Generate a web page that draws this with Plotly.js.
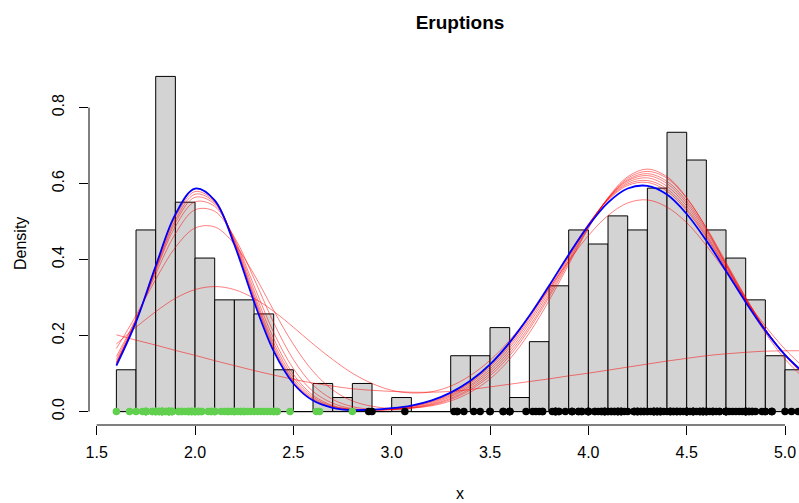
<!DOCTYPE html>
<html>
<head>
<meta charset="utf-8">
<script src="https://cdn.plot.ly/plotly-3.0.1.min.js"></script>
<style>html,body{margin:0;padding:0;background:#fff;}#chart{width:799px;height:503px;}</style>
</head>
<body>
<div id="chart"></div>
<script>
// Histogram of eruption durations (density scale), bins of width 0.1
const binLeft = [1.6,1.7,1.8,1.9,2.0,2.1,2.2,2.3,2.4,2.5,2.6,2.7,2.8,2.9,3.0,3.1,3.2,3.3,3.4,3.5,
                 3.6,3.7,3.8,3.9,4.0,4.1,4.2,4.3,4.4,4.5,4.6,4.7,4.8,4.9,5.0];
const binDensity = [0.110,0.478,0.882,0.551,0.404,0.294,0.294,0.257,0.110,0,0.074,0.037,0.074,0,0.037,0,0,0.147,0.147,0.221,
                    0.037,0.184,0.331,0.478,0.441,0.515,0.478,0.588,0.735,0.662,0.478,0.404,0.294,0.147,0.110];
const binWidth = 0.1;

// x positions at which the mixture densities were read
const curveX = [1.6,1.7,1.8,1.9,2.0,2.1,2.2,2.3,2.4,2.5,2.6,2.7,2.8,2.9,3.0,3.1,3.2,3.3,3.4,3.5,
                3.6,3.7,3.8,3.9,4.0,4.1,4.2,4.3,4.4,4.5,4.6,4.7,4.8,4.9,5.0,5.1];

// EM iterations (red) and final fit (blue)
const iter1 = [.202,.188,.175,.161,.148,.134,.121,.108,.096,.085,.075,.067,.060,.056,.053,.051,.051,.053,.058,.065,
               .072,.079,.086,.094,.101,.109,.117,.125,.133,.140,.147,.152,.156,.159,.160,.160];
const iter2 = [.178,.222,.263,.298,.321,.329,.321,.298,.264,.222,.178,.137,.101,.074,.056,.049,.052,.067,.095,.135,
               .188,.252,.323,.396,.463,.516,.549,.557,.538,.497,.437,.367,.294,.225,.164,.114];
const iter3 = [.166,.253,.348,.432,.483,.486,.441,.361,.266,.177,.106,.057,.028,.014,.008,.009,.015,.028,.051,.086,
               .138,.207,.292,.387,.482,.563,.618,.638,.618,.563,.482,.387,.292,.207,.138,.086];
const iter4 = [.145,.245,.362,.468,.531,.527,.459,.350,.234,.137,.070,.032,.013,.006,.005,.009,.017,.032,.057,.094,
               .147,.217,.301,.393,.484,.561,.614,.632,.614,.561,.484,.393,.301,.217,.147,.094];
const iter5 = [.137,.243,.370,.487,.552,.540,.455,.331,.208,.113,.053,.022,.008,.004,.005,.010,.019,.035,.061,.100,
               .154,.224,.307,.398,.486,.561,.610,.626,.606,.554,.478,.389,.299,.216,.148,.095];
const iter6 = [.131,.239,.373,.497,.564,.546,.452,.319,.192,.098,.043,.016,.006,.004,.006,.011,.021,.039,.066,.106,
               .161,.232,.314,.404,.489,.561,.607,.621,.600,.548,.473,.386,.297,.216,.149,.097];
const iter7 = [.128,.239,.377,.504,.572,.550,.448,.309,.181,.090,.038,.014,.006,.004,.006,.013,.024,.042,.070,.112,
               .168,.239,.321,.408,.491,.559,.603,.615,.593,.541,.467,.382,.295,.216,.149,.098];
const iter8 = [.126,.239,.381,.512,.579,.553,.445,.302,.173,.083,.034,.012,.005,.004,.007,.014,.026,.045,.075,.118,
               .174,.245,.327,.412,.493,.558,.599,.608,.586,.534,.462,.378,.293,.215,.150,.099];
const iter9 = [.125,.239,.384,.517,.586,.557,.444,.298,.167,.079,.031,.010,.005,.005,.008,.015,.028,.048,.078,.122,
               .179,.250,.330,.414,.493,.556,.595,.603,.580,.529,.458,.376,.292,.216,.151,.100];
const finalFit = [.121,.236,.383,.519,.587,.556,.439,.289,.159,.074,.029,.010,.004,.005,.009,.016,.029,.050,.081,.124,
                  .182,.252,.331,.413,.489,.550,.587,.594,.571,.520,.450,.370,.288,.213,.149,.100];

// Observations, split by assigned component
const shortEruptions = [1.800,2.283,1.950,1.833,1.750,2.167,1.750,1.600,1.800,1.750,1.967,2.017,1.867,1.833,1.883,1.750,2.100,2.000,1.833,1.733,
  1.667,2.233,1.750,1.817,2.067,1.967,1.983,2.017,2.633,2.167,2.200,1.867,1.833,1.867,2.483,2.100,1.867,1.783,2.300,1.700,
  2.317,1.817,2.617,1.967,1.917,2.267,1.867,2.800,1.833,1.883,2.033,2.233,1.983,2.017,1.800,2.400,1.800,2.200,2.000,2.367,
  1.933,1.917,2.083,2.417,1.883,2.033,1.833,2.183,1.833,2.250,2.100,1.867,1.783,1.933,2.383,1.867,2.400,2.000,1.867,1.750,
  2.417,2.217,1.883,1.850,2.333,2.350,2.083,2.133,2.200,2.000,1.850,1.983,2.250,2.150,1.817];
const longEruptions = [3.600,3.333,4.533,2.883,4.700,3.600,4.350,3.917,4.200,4.700,4.800,4.250,3.450,3.067,4.533,3.600,4.083,3.850,4.433,4.300,
  4.467,3.367,4.033,3.833,4.833,4.783,4.350,4.567,4.533,3.317,3.833,4.633,4.800,4.716,4.833,4.883,3.717,4.567,4.317,4.500,
  4.800,4.400,4.167,4.700,4.700,4.033,4.500,4.000,5.067,4.567,3.883,3.600,4.133,4.333,4.100,4.067,4.933,3.950,4.517,4.000,
  4.333,4.817,4.300,4.667,3.750,4.900,4.367,4.500,4.050,4.700,4.850,3.683,4.733,4.900,4.417,4.633,4.600,4.417,4.067,4.250,
  4.600,3.767,4.500,4.650,4.167,4.333,4.383,4.933,3.733,4.233,4.533,4.817,4.333,4.633,5.100,5.033,4.000,4.600,3.567,4.000,
  4.500,4.083,3.967,4.150,3.833,3.500,4.583,5.000,4.617,4.583,3.333,4.167,4.333,4.500,4.000,4.167,4.583,4.250,3.767,4.433,
  4.083,4.417,4.800,4.800,4.100,3.966,4.233,3.500,4.366,4.667,4.350,4.133,4.600,4.367,3.850,4.500,4.700,3.833,3.417,4.233,
  4.800,4.150,4.267,4.483,4.000,4.117,4.083,4.267,3.917,4.550,4.083,4.183,4.450,4.283,3.950,4.150,4.933,2.900,4.583,3.833,
  4.367,4.350,4.450,3.567,4.500,4.150,3.817,3.917,4.450,4.283,4.767,4.533,4.250,4.750,4.117,4.417,4.467];

const xTicks = [1.5,2.0,2.5,3.0,3.5,4.0,4.5,5.0];
const xTickLabels = ["1.5","2.0","2.5","3.0","3.5","4.0","4.5","5.0"];
const yTicks = [0,0.2,0.4,0.6,0.8];
const yTickLabels = ["0.0","0.2","0.4","0.6","0.8"];

const FONT = "Liberation Sans, Arial, Helvetica, sans-serif";
const iterations = [iter1,iter2,iter3,iter4,iter5,iter6,iter7,iter8,iter9];

const traces = [];
traces.push({
  type:'bar', x: binLeft.map(b => b + binWidth/2), y: binDensity, width: binWidth,
  marker:{color:'#D3D3D3', line:{color:'#000000', width:1}}, hoverinfo:'skip'
});
iterations.forEach(ys => traces.push({
  type:'scatter', mode:'lines', x: curveX, y: ys,
  line:{color:'rgba(255,0,0,0.5)', width:1, shape:'spline', smoothing:1}, hoverinfo:'skip'
}));
traces.push({
  type:'scatter', mode:'lines', x: curveX, y: finalFit,
  line:{color:'#0000FF', width:1.8, shape:'spline', smoothing:1}, hoverinfo:'skip'
});
traces.push({
  type:'scatter', mode:'markers', x: shortEruptions, y: shortEruptions.map(() => 0),
  marker:{color:'#61D04F', size:7.5}, hoverinfo:'skip'
});
traces.push({
  type:'scatter', mode:'markers', x: longEruptions, y: longEruptions.map(() => 0),
  marker:{color:'#000000', size:7.5}, hoverinfo:'skip'
});

const layout = {
  width:799, height:503,
  margin:{l:89, r:0, t:63, b:78, pad:0},
  paper_bgcolor:'#ffffff', plot_bgcolor:'#ffffff',
  showlegend:false, bargap:0,
  font:{family:FONT, color:'#000'},
  title:{text:'<b>Eruptions</b>', font:{family:FONT, size:19, color:'#000'},
         x:460/799, xref:'container', xanchor:'center', y:1-22/503, yref:'container', yanchor:'middle'},
  xaxis:{range:[1.4608,5.0711], showgrid:false, zeroline:false, showline:false,
         ticks:'outside', ticklen:9, tickwidth:1, tickcolor:'#000',
         tickvals:xTicks, ticktext:xTickLabels, tickfont:{family:FONT, size:16, color:'#000'},
         ticklabelstandoff:4},
  yaxis:{range:[-0.0353,0.9173], showgrid:false, zeroline:false, showline:false,
         ticks:'outside', ticklen:9, tickwidth:1, tickcolor:'#000', tickangle:-90,
         tickvals:yTicks, ticktext:yTickLabels, tickfont:{family:FONT, size:16, color:'#000'},
         ticklabelstandoff:9},
  shapes:[
    {type:'line', xref:'x', yref:'paper', x0:xTicks[0], x1:xTicks[xTicks.length-1], y0:0, y1:0,
     line:{color:'#000', width:1}},
    {type:'line', xref:'paper', yref:'y', x0:0, x1:0, y0:yTicks[0], y1:yTicks[yTicks.length-1],
     line:{color:'#000', width:1}},
    {type:'line', xref:'x', yref:'y', x0:binLeft[0], x1:binLeft[binLeft.length-1]+binWidth, y0:0, y1:0,
     line:{color:'#000', width:1}, layer:'below'}
  ],
  annotations:[
    {text:'x', xref:'paper', yref:'paper', x:(460-89)/710, y:0, yshift:-68, xanchor:'center', yanchor:'middle',
     showarrow:false, font:{family:FONT, size:16, color:'#000'}},
    {text:'Density', xref:'paper', yref:'paper', x:0, xshift:-69, y:0.5, xanchor:'center', yanchor:'middle',
     textangle:-90, showarrow:false, font:{family:FONT, size:16, color:'#000'}}
  ]
};

Plotly.newPlot('chart', traces, layout, {staticPlot:true, displayModeBar:false});
</script>
</body>
</html>
